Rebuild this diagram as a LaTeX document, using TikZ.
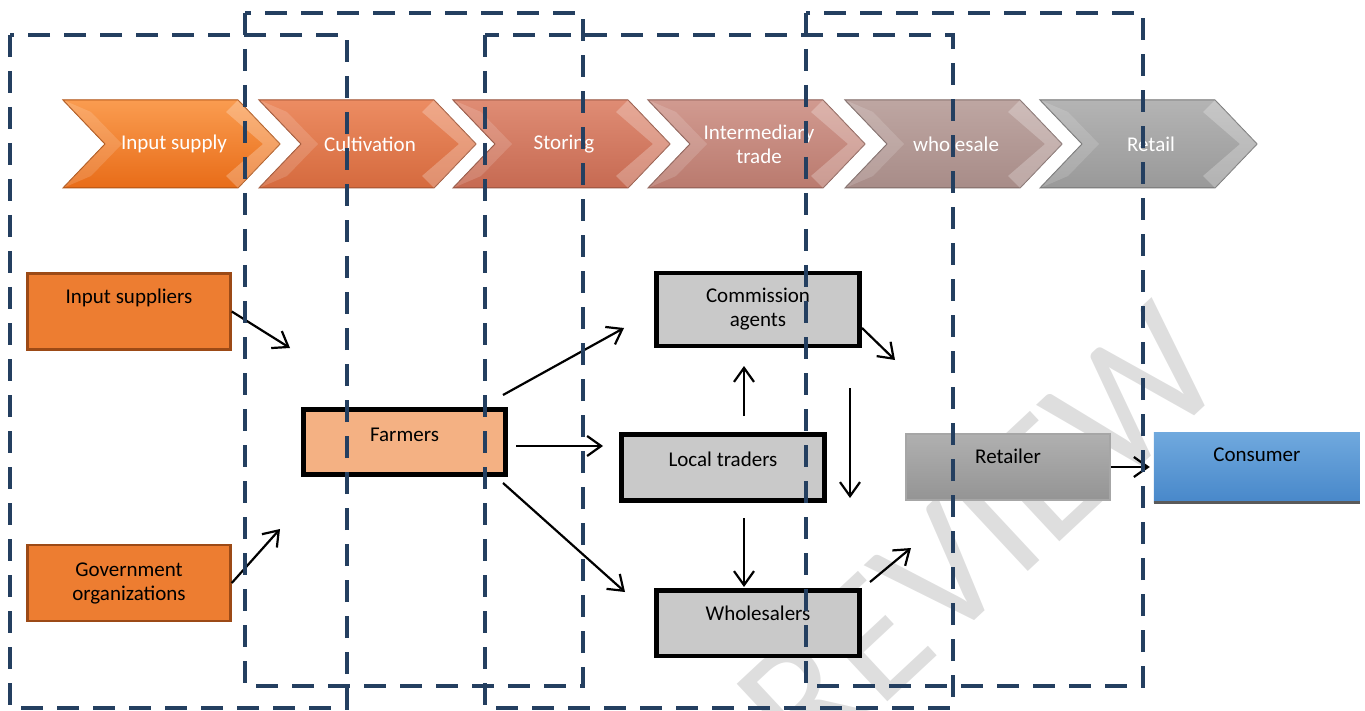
\documentclass[tikz,border=0pt]{standalone}
\usepackage{fontspec}
\setmainfont{Carlito}
\usetikzlibrary{arrows.meta,positioning}

\definecolor{zoneblue}{HTML}{243F60}
\definecolor{orgfill}{HTML}{ED7D31}
\definecolor{orgedge}{HTML}{9C4A16}
\definecolor{farmfill}{HTML}{F4B183}
\definecolor{tradegray}{HTML}{C9C9C9}
\definecolor{retA}{HTML}{B0B0B0}
\definecolor{retB}{HTML}{949494}
\definecolor{retedge}{HTML}{A6A6A6}
\definecolor{consA}{HTML}{70A9DE}
\definecolor{consB}{HTML}{4888CA}
\definecolor{consline}{HTML}{5A5A5A}
\definecolor{wmgray}{HTML}{DEDEDE}
\definecolor{chevA}{HTML}{FA9C50}
\definecolor{chevAd}{HTML}{E86C18}
\definecolor{chevB}{HTML}{EC8C62}
\definecolor{chevBd}{HTML}{D56A3E}
\definecolor{chevC}{HTML}{DF8C74}
\definecolor{chevCd}{HTML}{C66A52}
\definecolor{chevD}{HTML}{D19A90}
\definecolor{chevDd}{HTML}{BA7A6E}
\definecolor{chevE}{HTML}{BEA6A2}
\definecolor{chevEd}{HTML}{A88C88}
\definecolor{chevF}{HTML}{B4B4B4}
\definecolor{chevFd}{HTML}{999999}

\newcommand{\boxfont}{\fontsize{21}{24}\selectfont}

\tikzset{
    %Define standard arrow tip
    >={Straight Barb[length=14pt,width=20pt]},
    %Define style for boxes
    actor/.style={
           rectangle,
           inner sep=0pt,
           font=\boxfont,
           align=center},
    lift/.style={text height=15pt, text depth=#1},
    supplier/.style={actor, fill=orgfill, draw=orgedge, line width=2.5pt,
           minimum width=203pt, minimum height=76pt},
    farmer/.style={actor, fill=farmfill, draw=black, line width=4.5pt,
           minimum width=202pt, minimum height=65pt},
    trader/.style={actor, fill=tradegray, draw=black, line width=4.5pt,
           minimum width=203pt, minimum height=66pt},
    retailer/.style={actor, top color=retA, bottom color=retB, draw=retedge,
           line width=1.5pt, minimum width=204pt, minimum height=66pt},
    consumer/.style={actor, top color=consA, bottom color=consB,
           minimum width=206pt, minimum height=70pt},
    stagetext/.style={text=white, font=\boxfont, align=center},
    wmark/.style={text=wmgray, rotate=43, inner sep=0pt,
           font=\fontsize{180}{180}\selectfont},
    % Define arrow style
    pil/.style={->, line width=2.2pt},
    zone/.style={draw=zoneblue, line width=4pt, dash pattern=on 22pt off 14pt}
}

\begin{document}
\begin{tikzpicture}[x=1pt, y=-1pt]
\useasboundingbox (0,0) rectangle (1365,711);
% watermark
\node[wmark] (wm) at (980,537) {REVIEW};
% stages of the chain
\foreach \x/\ca/\cb/\txt [count=\i] in {63/chevA/chevAd/{Input supply}, 259/chevB/chevBd/Cultivation, 453/chevC/chevCd/Storing, 648/chevD/chevDd/{Intermediary\\trade}, 845/chevE/chevEd/wholesale, 1040/chevF/chevFd/Retail}{
  \path[top color=\ca, bottom color=\cb, draw=\cb!75!black, line width=1pt]
    (\x,100) -- ++(175,0) -- ++(42,44) -- ++(-42,44) -- ++(-175,0) -- ++(42,-44) -- cycle;
  \fill[white, opacity=.25] (\x+175,100) -- (\x+217,144) -- (\x+175,188)
    -- (\x+163,176) -- (\x+200,144) -- (\x+163,112) -- cycle;
  \fill[white, opacity=.15] (\x,100) -- (\x+42,144) -- (\x,188)
    -- (\x+28,176) -- (\x+59,144) -- (\x+28,112) -- cycle;
  \node[stagetext] (stage\i) at (\x+111,144) {\txt};
}
% actors
\node[supplier, lift=30pt] (isup) at (129,311.5) {Input suppliers};
\node[supplier, below=193pt of isup] (gov) {Government\\organizations};
\node[farmer, lift=17pt] (farm) at (404.5,442) {Farmers};
\node[trader, minimum height=72.5pt] (comm) at (758,309.5) {Commission\\agents};
\node[trader, lift=18pt] (loc) at (723,467.5) {Local traders};
\node[trader, lift=21pt, minimum height=65.5pt] (whol) at (758,623) {Wholesalers};
\node[retailer, lift=23pt] (ret) at (1008,467) {Retailer};
\node[consumer, lift=26pt, right=43pt of ret] (cons) {Consumer};
\draw[consline, line width=3pt] (cons.south west) -- (cons.south east);
% flows
\coordinate (isup-to) at (290,348);
\coordinate (gov-to) at (280,529);
\coordinate (farm-up) at (503,395);
\coordinate (comm-in) at (624,328);
\coordinate (farm-mid) at (516,446);
\coordinate (loc-in) at (603,446);
\coordinate (farm-dn) at (503,483);
\coordinate (whol-in) at (625,592);
\coordinate (loc-up) at (744,416);
\coordinate (comm-dn) at (744,366);
\coordinate (loc-dn) at (744,518);
\coordinate (whol-up) at (744,587);
\coordinate (comm-out) at (862,328);
\coordinate (comm-to) at (895,360);
\coordinate (side-top) at (850,388);
\coordinate (side-bot) at (850,498);
\coordinate (whol-out) at (870,582);
\coordinate (whol-to) at (911,548);
\draw[pil] (isup.east) -- (isup-to);
\draw[pil] (gov.east) -- (gov-to);
\draw[pil] (farm-up) -- (comm-in);
\draw[pil] (farm-mid) -- (loc-in);
\draw[pil] (farm-dn) -- (whol-in);
\draw[pil] (loc-up) -- (comm-dn);
\draw[pil] (loc-dn) -- (whol-up);
\draw[pil] (comm-out) -- (comm-to);
\draw[pil] (side-top) -- (side-bot);
\draw[pil] (whol-out) -- (whol-to);
\draw[pil, shorten >=4pt] (ret.east) -- (ret.east -| cons.west);
% dashed zones
\draw[zone] (10,35) rectangle (347,708);
\draw[zone] (245,13) rectangle (583,686);
\draw[zone] (485,35) rectangle (953,708);
\draw[zone] (806,13) rectangle (1143,686);
\end{tikzpicture}
\end{document}
